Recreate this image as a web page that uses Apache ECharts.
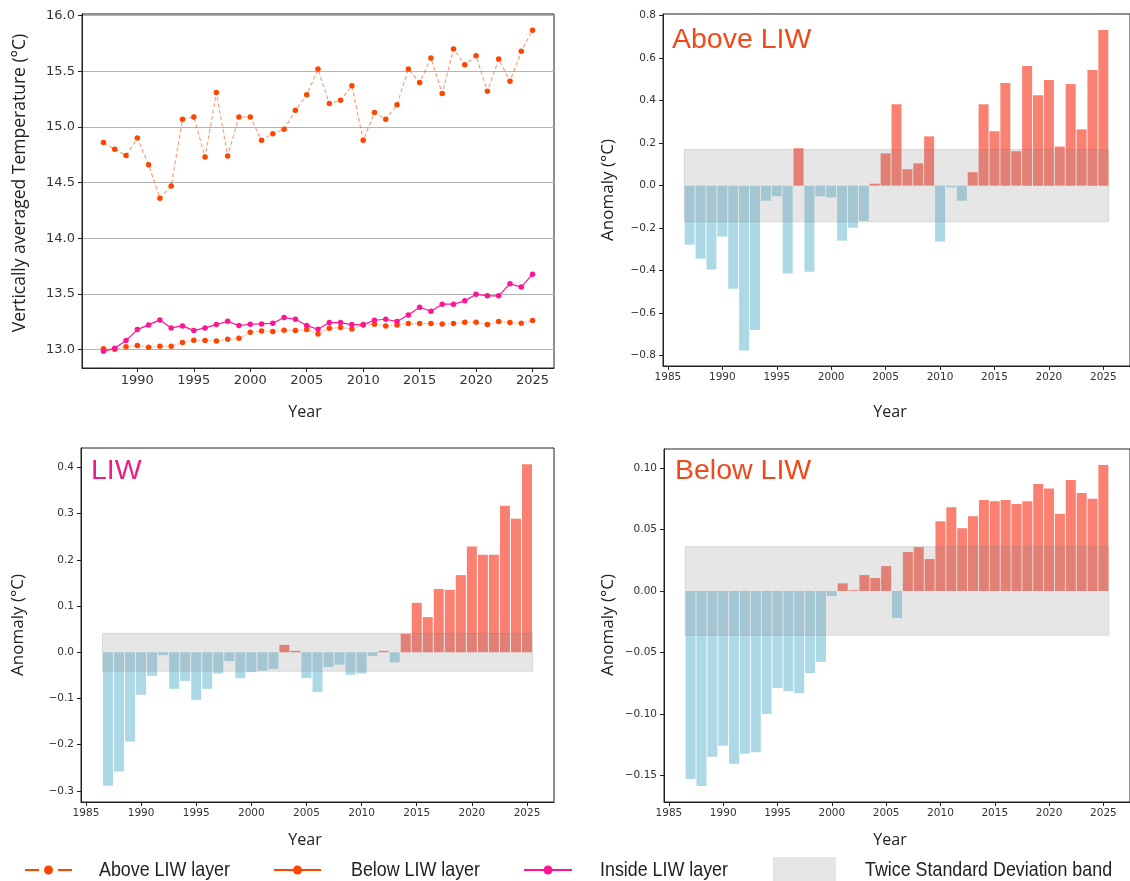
<!DOCTYPE html>
<html><head><meta charset="utf-8">
<script src="https://cdn.jsdelivr.net/npm/echarts@6/dist/echarts.min.js"></script>
<style>html,body{margin:0;padding:0;background:#fff}#c{width:1130px;height:881px}</style>
</head><body><div id="c"></div>
<script>
// ---------- data ----------
const years = [1987,1988,1989,1990,1991,1992,1993,1994,1995,1996,1997,1998,1999,2000,2001,2002,2003,2004,2005,2006,2007,2008,2009,2010,2011,2012,2013,2014,2015,2016,2017,2018,2019,2020,2021,2022,2023,2024,2025];
const aboveTemp = [14.86,14.80,14.745,14.90,14.66,14.36,14.47,15.07,15.09,14.73,15.31,14.74,15.09,15.09,14.88,14.94,14.98,15.15,15.29,15.52,15.21,15.24,15.37,14.88,15.13,15.07,15.20,15.52,15.40,15.62,15.30,15.70,15.56,15.64,15.32,15.61,15.41,15.68,15.87];
const belowTemp = [13.009,13.003,13.027,13.036,13.021,13.03,13.03,13.063,13.084,13.081,13.078,13.093,13.102,13.156,13.168,13.162,13.174,13.171,13.18,13.141,13.192,13.198,13.186,13.222,13.228,13.213,13.222,13.234,13.234,13.234,13.231,13.234,13.246,13.246,13.225,13.252,13.243,13.237,13.261];
const insideTemp = [12.985,13.012,13.081,13.18,13.222,13.267,13.195,13.213,13.171,13.195,13.225,13.255,13.216,13.228,13.231,13.237,13.288,13.273,13.216,13.183,13.243,13.243,13.225,13.225,13.264,13.273,13.252,13.312,13.381,13.345,13.408,13.408,13.438,13.498,13.483,13.483,13.592,13.562,13.678];
const aboveAnom = [-0.278,-0.344,-0.395,-0.24,-0.485,-0.776,-0.679,-0.071,-0.05,-0.414,0.176,-0.405,-0.05,-0.055,-0.259,-0.198,-0.166,0.009,0.152,0.383,0.077,0.105,0.232,-0.263,-0.008,-0.071,0.063,0.383,0.256,0.483,0.162,0.563,0.425,0.497,0.184,0.479,0.265,0.544,0.733];
const liwAnom = [-0.289,-0.258,-0.193,-0.092,-0.051,-0.006,-0.079,-0.062,-0.103,-0.079,-0.046,-0.019,-0.056,-0.043,-0.040,-0.036,0.016,0.003,-0.056,-0.086,-0.032,-0.027,-0.049,-0.046,-0.008,0.003,-0.022,0.040,0.107,0.076,0.137,0.135,0.167,0.229,0.211,0.211,0.317,0.289,0.407];
const belowAnom = [-0.1527,-0.1584,-0.1347,-0.1258,-0.1404,-0.1323,-0.131,-0.0999,-0.0789,-0.0813,-0.083,-0.0668,-0.0576,-0.0042,0.0062,0.0006,0.0129,0.0105,0.0202,-0.022,0.0316,0.0356,0.0259,0.0566,0.068,0.051,0.0607,0.0739,0.0728,0.0739,0.0707,0.0728,0.0869,0.0833,0.0626,0.0901,0.0796,0.0748,0.1023];
// twice-std band: [xStart, xEnd, low, high]
const bandAbove = [1986.5, 2025.5, -0.170, 0.170];
const bandLiw = [1986.5, 2025.5, -0.041, 0.041];
const bandBelow = [1986.5, 2025.5, -0.036, 0.036];
// tick labels
const tempXTicks = [1990,1995,2000,2005,2010,2015,2020,2025];
const tempYTicks = [13.0,13.5,14.0,14.5,15.0,15.5,16.0];
const anomXTicks = [1985,1990,1995,2000,2005,2010,2015,2020,2025];
const aboveYTicks = [-0.8,-0.6,-0.4,-0.2,0.0,0.2,0.4,0.6,0.8];
const liwYTicks = [-0.3,-0.2,-0.1,0.0,0.1,0.2,0.3,0.4];
const belowYTicks = [-0.15,-0.10,-0.05,0.00,0.05,0.10];
const legendLabels = ['Above LIW layer','Below LIW layer','Inside LIW layer','Twice Standard Deviation band'];

// ---------- helpers ----------
const pair = (xs, ys) => xs.map((x, i) => [x, ys[i]]);
const fmt = d => v => (v < 0 ? '\u2212' : '') + Math.abs(v).toFixed(d);
const AX = '#222';
function xAx(g, min, max, ticks, fs) {
  return {type:'value', gridIndex:g, min, max,
    axisLine:{show:true, onZero:false, lineStyle:{color:AX, width:1}},
    axisTick:{show:true, customValues:ticks, length:4, lineStyle:{color:AX}},
    axisLabel:{customValues:ticks, fontSize:fs, color:'#333', fontFamily:'DejaVu Sans', margin:6, formatter: v => String(v)},
    splitLine:{show:false}};
}
function yAx(g, min, max, ticks, fs, dec, split) {
  return {type:'value', gridIndex:g, min, max,
    axisLine:{show:true, onZero:false, lineStyle:{color:AX, width:1}},
    axisTick:{show:true, customValues:ticks, length:4, lineStyle:{color:AX}},
    axisLabel:{customValues:ticks, fontSize:fs, color:'#333', fontFamily:'DejaVu Sans', margin:7, formatter: fmt(dec)},
    splitLine:{show:!!split, lineStyle:{color:'#b4b4b4', width:1}}};
}
const SALMON = '#FA8072', LBLUE = '#ADD8E6';
function bars(g, ys) {
  return {type:'bar', xAxisIndex:g, yAxisIndex:g, data:pair(years, ys), barWidth:10, z:2,
    itemStyle:{color: p => p.value[1] >= 0 ? SALMON : LBLUE}, silent:true};
}
function band(g, b) {
  return {type:'custom', xAxisIndex:g, yAxisIndex:g, z:5, silent:true, data:[b],
    encode:{x:[0,1], y:[2,3]},
    renderItem:(params, api) => {
      const p0 = api.coord([api.value(0), api.value(3)]);
      const p1 = api.coord([api.value(1), api.value(2)]);
      return {type:'rect', shape:{x:p0[0], y:p0[1], width:p1[0]-p0[0], height:p1[1]-p0[1]},
        style:{fill:'rgba(128,128,128,0.2)', stroke:'rgba(128,128,128,0.22)', lineWidth:1}};
    }};
}
const OR = '#FF4500', PINK = '#FF1493';
const gridBase = {show:true, borderColor:'#222', borderWidth:1, backgroundColor:'transparent', containLabel:false};

const TF = 'Open Sans';
function txt(x, y, s, size, color) {
  return {type:'text', x, y, style:{text:s, fontSize:size, fill:color, fontFamily:TF, align:'center', verticalAlign:'middle'}};
}
function vtxt(x, y, s, size) {
  return {type:'text', x, y, rotation:Math.PI/2, style:{text:s, fontSize:size, fill:'#222', fontFamily:TF, align:'center', verticalAlign:'middle'}};
}
function ltxt(x, s) {
  return {type:'text', x, y:870, scaleX:0.85, style:{text:s, fontSize:21, fill:'#222', fontFamily:'Liberation Sans', verticalAlign:'middle'}};
}

const option = {
  animation:false,
  backgroundColor:'#fff',
  grid:[
    Object.assign({left:82, top:14, width:472, height:354}, gridBase),
    Object.assign({left:663, top:14, width:472, height:352}, gridBase),
    Object.assign({left:81, top:448, width:473, height:354}, gridBase),
    Object.assign({left:664, top:449, width:472, height:353}, gridBase)
  ],
  xAxis:[
    xAx(0, 1985.1, 2026.9, tempXTicks, 13),
    xAx(1, 1984.55, 2027.45, anomXTicks, 10.5),
    xAx(2, 1984.55, 2027.45, anomXTicks, 10.5),
    xAx(3, 1984.55, 2027.45, anomXTicks, 10.5)
  ],
  yAxis:[
    yAx(0, 12.835, 16.015, tempYTicks, 13, 1, true),
    yAx(1, -0.849, 0.808, aboveYTicks, 10.5, 1),
    yAx(2, -0.324, 0.442, liwYTicks, 10.5, 1),
    yAx(3, -0.1714, 0.1153, belowYTicks, 10.5, 2)
  ],
  series:[
    {type:'line', name:legendLabels[0], xAxisIndex:0, yAxisIndex:0, data:pair(years, aboveTemp),
      symbol:'circle', symbolSize:5.5, itemStyle:{color:OR},
      lineStyle:{type:[4,2.5], color:'rgba(255,69,0,0.55)', width:1.1}},
    {type:'line', name:legendLabels[1], xAxisIndex:0, yAxisIndex:0, data:pair(years, belowTemp),
      symbol:'circle', symbolSize:5.5, itemStyle:{color:OR},
      lineStyle:{type:[1.5,1.5], color:'rgba(255,69,0,0.5)', width:1.1}},
    {type:'line', name:legendLabels[2], xAxisIndex:0, yAxisIndex:0, data:pair(years, insideTemp),
      symbol:'circle', symbolSize:5.5, itemStyle:{color:PINK},
      lineStyle:{type:'solid', color:PINK, width:1.2}},
    bars(1, aboveAnom), band(1, bandAbove),
    bars(2, liwAnom), band(2, bandLiw),
    bars(3, belowAnom), band(3, bandBelow)
  ],
  graphic:[
    // panel titles
    {type:'text', x:672, y:40, style:{text:'Above LIW', fontSize:28.5, fill:'#F04A1A', fontFamily:'Liberation Sans', verticalAlign:'middle'}},
    {type:'text', x:91, y:471, style:{text:'LIW', fontSize:28.5, fill:'#EC1E8C', fontFamily:'Liberation Sans', verticalAlign:'middle'}},
    {type:'text', x:675, y:471, style:{text:'Below LIW', fontSize:28.5, fill:'#F04A1A', fontFamily:'Liberation Sans', verticalAlign:'middle'}},
    // axis titles
    txt(305, 412, 'Year', 16, '#222'),
    txt(890, 412, 'Year', 16, '#222'),
    txt(305, 840, 'Year', 16, '#222'),
    txt(890, 840, 'Year', 16, '#222'),
    vtxt(20, 183, 'Vertically averaged Temperature (°C)', 17.5),
    vtxt(608, 190, 'Anomaly (°C)', 17),
    vtxt(18, 625, 'Anomaly (°C)', 17),
    vtxt(608, 625, 'Anomaly (°C)', 17),
    // legend
    {type:'line', shape:{x1:25, y1:870, x2:72, y2:870}, style:{stroke:OR, lineWidth:2, lineDash:[14,19]}},
    {type:'circle', shape:{cx:48.5, cy:870, r:4.5}, style:{fill:OR}},
    {type:'line', shape:{x1:274, y1:870, x2:321, y2:870}, style:{stroke:OR, lineWidth:2}},
    {type:'circle', shape:{cx:297.5, cy:870, r:4.5}, style:{fill:OR}},
    {type:'line', shape:{x1:524, y1:870, x2:572, y2:870}, style:{stroke:PINK, lineWidth:2}},
    {type:'circle', shape:{cx:548, cy:870, r:4.5}, style:{fill:PINK}},
    {type:'rect', shape:{x:773, y:857, width:63, height:25}, style:{fill:'#e5e5e5'}},
    ltxt(99, legendLabels[0]),
    ltxt(351, legendLabels[1]),
    ltxt(600, legendLabels[2]),
    ltxt(865, legendLabels[3])
  ]
};
const chart = echarts.init(document.getElementById('c'), null, {renderer:'canvas'});
chart.setOption(option);
</script></body></html>
